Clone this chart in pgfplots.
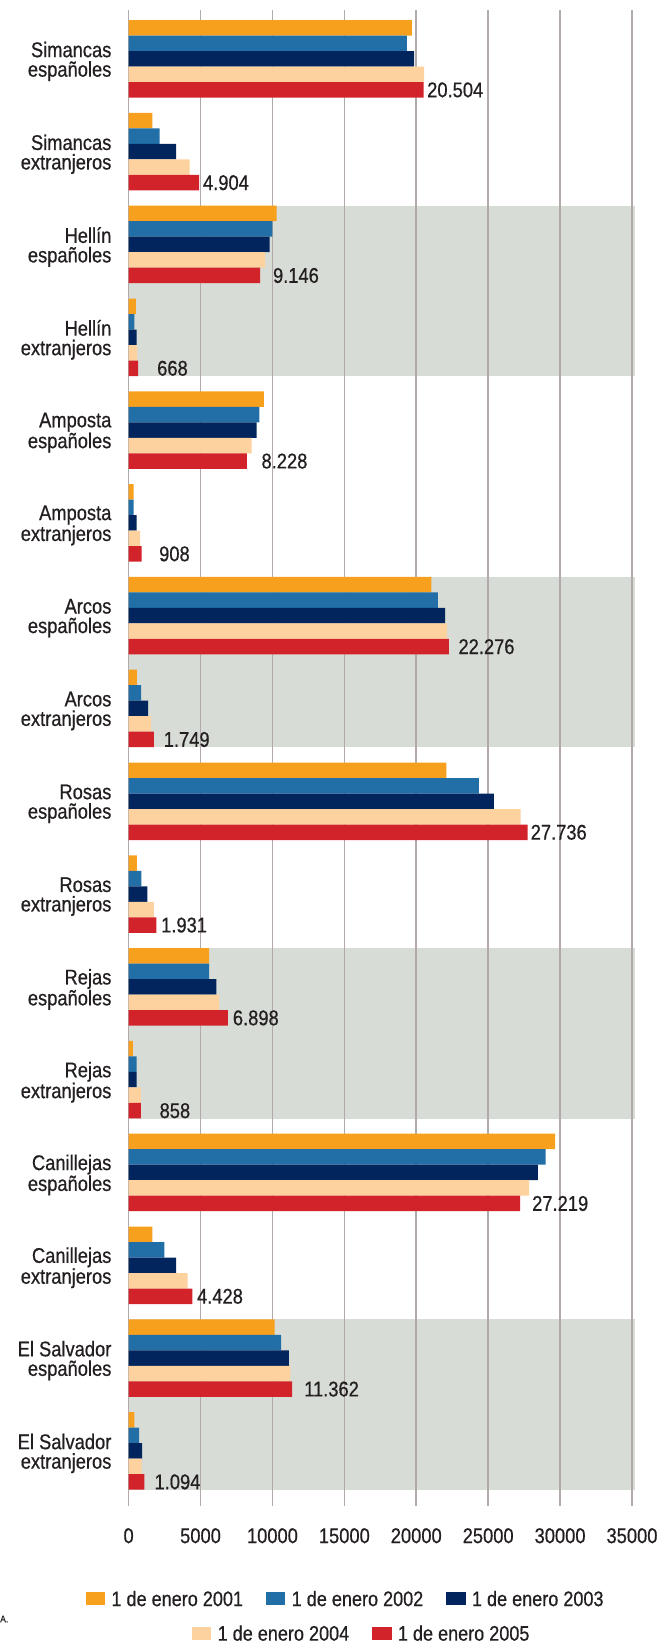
\documentclass[border=0pt]{standalone}
\usepackage{fontspec}
\setmainfont{Liberation Sans}[FakeStretch=0.86, FakeBold=0.6]
\usepackage{pgfplots}
\pgfplotsset{compat=1.18}
\definecolor{c01}{RGB}{247,160,30}
\definecolor{c02}{RGB}{33,111,166}
\definecolor{c03}{RGB}{2,37,94}
\definecolor{c04}{RGB}{253,210,158}
\definecolor{c05}{RGB}{210,35,43}
\definecolor{band}{RGB}{216,220,214}
\definecolor{gridc}{RGB}{178,170,170}
\definecolor{txt}{RGB}{35,31,32}
\newcommand{\fs}{\fontsize{21.3}{19.5}\selectfont}
\newcommand{\fl}{\fontsize{21}{20}\selectfont}
\pgfplotsset{sq/.style={legend image code/.code={\fill[##1,draw=none] (0pt,-6.5pt) rectangle (19.4pt,6.5pt);}}}
\begin{document}
\begin{tikzpicture}
\begin{axis}[
  at={(128.6pt,-1506pt)}, anchor=south west,
  scale only axis, width=503.4pt, height=1496pt,
  xmin=0, xmax=35000, ymin=-0.5264, ymax=15.594, y dir=reverse,
  xbar=0pt, bar width=15.5pt,
  set layers, clip=false,
  axis line style={draw=none}, major tick length=0pt,
  xtick={0,5000,...,35000}, scaled x ticks=false,
  /pgf/number format/assume math mode=true,
  /pgf/number format/set thousands separator={},
  xmajorgrids=true, major grid style={draw=gridc, line width=1.6pt},
  ytick={0,...,15},
  yticklabels={{Simancas\\españoles},{Simancas\\extranjeros},{Hellín\\españoles},{Hellín\\extranjeros},{Amposta\\españoles},{Amposta\\extranjeros},{Arcos\\españoles},{Arcos\\extranjeros},{Rosas\\españoles},{Rosas\\extranjeros},{Rejas\\españoles},{Rejas\\extranjeros},{Canillejas\\españoles},{Canillejas\\extranjeros},{El Salvador\\españoles},{El Salvador\\extranjeros}},
  xticklabel style={font=\fs, text=txt, inner sep=0pt, anchor=north, yshift=-22pt},
  yticklabel style={font=\fs, text=txt, inner sep=0pt, anchor=east, align=right, xshift=-17pt, yshift=-2.5pt},
  legend columns=3,
  legend style={at={(-0.0854,-0.0618)}, anchor=west, draw=none, fill=none,
    inner xsep=0pt, inner ysep=0pt, font=\fl, text=txt,
    nodes={inner sep=0pt, text depth=0pt},
    /tikz/every odd column/.append style={column sep=6.3pt},
    /tikz/every even column/.append style={column sep=23pt}},
  legend cell align=left,
]
\begin{pgfonlayer}{axis background}
\fill[band] (axis cs:0,1.5813) rectangle (axis cs:35174,3.4187);
\fill[band] (axis cs:0,5.5813) rectangle (axis cs:35174,7.4187);
\fill[band] (axis cs:0,9.5813) rectangle (axis cs:35174,11.4187);
\fill[band] (axis cs:0,13.5813) rectangle (axis cs:35174,15.4187);
\end{pgfonlayer}
% 1 de enero 2001
\addplot[fill=c01, draw=none, sq, bar shift=31pt] coordinates {
(19700,0) (1650,1) (10300,2) (500,3) (9400,4) (350,5) (21050,6) (570,7)
(22100,8) (580,9) (5600,10) (300,11) (29650,12) (1650,13) (10150,14) (400,15)};
% 1 de enero 2002
\addplot[fill=c02, draw=none, sq, bar shift=15.5pt] coordinates {
(19350,0) (2150,1) (10000,2) (410,3) (9100,4) (350,5) (21500,6) (870,7)
(24350,8) (880,9) (5600,10) (560,11) (29000,12) (2480,13) (10600,14) (740,15)};
% 1 de enero 2003
\addplot[fill=c03, draw=none, sq, bar shift=0pt] coordinates {
(19850,0) (3300,1) (9800,2) (560,3) (8900,4) (550,5) (22000,6) (1350,7)
(25400,8) (1300,9) (6100,10) (560,11) (28450,12) (3300,13) (11150,14) (940,15)};
% 1 de enero 2004
\addplot[fill=c04, draw=none, sq, bar shift=-15.5pt] coordinates {
(20550,0) (4250,1) (9500,2) (600,3) (8550,4) (800,5) (22150,6) (1550,7)
(27250,8) (1750,9) (6300,10) (850,11) (27850,12) (4100,13) (11250,14) (900,15)};
% 1 de enero 2005
\addplot[fill=c05, draw=none, sq, bar shift=-31pt, nodes near coords, point meta=explicit symbolic,
  visualization depends on={\thisrow{dx} \as \dx},
  nodes near coords style={anchor=west, inner sep=0pt, xshift=\dx pt, font=\fs, text=txt}]
  table[x=v, y=g, meta=lab] {
g v lab dx
0 20504 20.504 3.5
1 4904 4.904 3.7
2 9146 9.146 12.7
3 668 668 18.8
4 8228 8.228 14.4
5 908 908 17.3
6 22276 22.276 9.3
7 1749 1.749 9.8
8 27736 27.736 3
9 1931 1.931 4.6
10 6898 6.898 4.9
11 858 858 18.5
12 27219 27.219 11.9
13 4428 4.428 4.6
14 11362 11.362 12
15 1094 1.094 10
};
\legend{1 de enero 2001, 1 de enero 2002, 1 de enero 2003}
\end{axis}
\begin{axis}[
  at={(128.6pt,-1506pt)}, anchor=south west,
  scale only axis, width=503.4pt, height=1496pt,
  hide axis, xmin=0, xmax=1, ymin=0, ymax=1,
  legend columns=2,
  legend style={at={(0.1255,-0.0849)}, anchor=west, draw=none, fill=none,
    inner xsep=0pt, inner ysep=0pt, font=\fl, text=txt,
    nodes={inner sep=0pt, text depth=0pt},
    /tikz/every odd column/.append style={column sep=6.3pt},
    /tikz/every even column/.append style={column sep=23pt}},
  legend cell align=left,
]
\addlegendimage{sq, fill=c04, draw=none}
\addlegendentry{1 de enero 2004}
\addlegendimage{sq, fill=c05, draw=none}
\addlegendentry{1 de enero 2005}
\end{axis}
\node[anchor=west, inner sep=0pt, text=txt, font=\fontsize{10}{10}\selectfont] at (0pt,-1619pt) {A.};
\pgfresetboundingbox
\path[use as bounding box] (0,0) rectangle (658pt,-1642pt);
\end{tikzpicture}
\end{document}
